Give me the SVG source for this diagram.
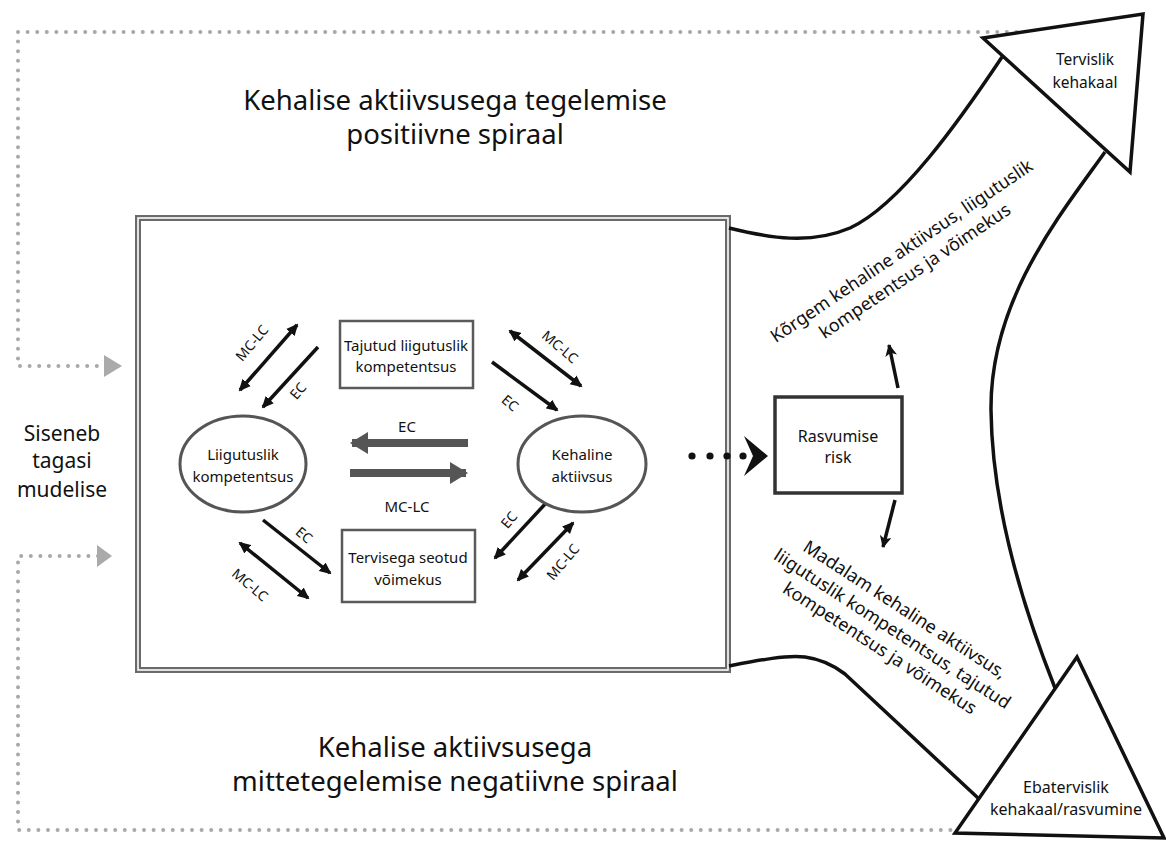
<svg xmlns="http://www.w3.org/2000/svg" width="1166" height="844" viewBox="0 0 1166 844">
<defs>
<marker id="ah" viewBox="0 0 12 12" refX="10" refY="6" markerWidth="12" markerHeight="12" markerUnits="userSpaceOnUse" orient="auto-start-reverse"><path d="M0,0.5 L12,6 L0,11.5 z" fill="#111"/></marker>
<marker id="ahg" viewBox="0 0 18 22" refX="16" refY="11" markerWidth="18" markerHeight="22" markerUnits="userSpaceOnUse" orient="auto"><path d="M0,0 L18,11 L0,22 z" fill="#555"/></marker>
<marker id="ahs" viewBox="0 0 12 12" refX="11" refY="6" markerWidth="12" markerHeight="12" markerUnits="userSpaceOnUse" orient="auto"><path d="M0,0 L12,6 L0,12 L3,6 z" fill="#111"/></marker>
</defs>
<style>
.t{font-family:"Noto Sans","DejaVu Sans",sans-serif;fill:#111;text-anchor:middle}
.title{font-size:27.5px}
.lab{font-size:15px}
.sm{font-size:14px}
.rot{font-size:18px}
.dot{fill:none;stroke:#a8a8a8;stroke-width:4;stroke-linecap:round;stroke-dasharray:0 9.6}
.ln{stroke:#111;stroke-width:3.5;fill:none}
.thick{stroke:#555;stroke-width:8;fill:none}
.big{fill:none;stroke:#111;stroke-width:3.5}
.tri{fill:#fff;stroke:#111;stroke-width:3.5;stroke-linejoin:miter}
.box{fill:#fff;stroke:#5a5a5a;stroke-width:2.5}
.ell{fill:#fff;stroke:#555;stroke-width:3}
</style>
<rect width="1166" height="844" fill="#fff"/>

<g id="feedback">
<path class="dot" d="M1026,32 L18,32 L18,366 L104,366"/>
<polygon points="104,355 122,366 104,377" fill="#aaa"/>
<path class="dot" d="M98,556 L18,556 L18,830 L952,830"/>
<polygon points="97,545 112,556 97,567" fill="#aaa"/>
</g>

<g id="frame">
<rect x="138" y="218" width="590" height="452" fill="none" stroke="#6a6a6a" stroke-width="6"/>
<rect x="138" y="218" width="590" height="452" fill="none" stroke="#fff" stroke-width="1.6"/>
</g>

<g id="spiral">
<path class="big" d="M729,228 C770,238 810,245 850,228 C900,205 960,120 1002,57"/>
<path class="big" d="M1105,152 C1060,215 990,300 991,410 C992,500 1020,600 1055,688"/>
<path class="big" d="M729,666 C760,660 785,655 805,657 C820,659 832,664 845,674 L978,798"/>
</g>

<g id="connectors">
<line class="ln" x1="240" y1="390" x2="297" y2="325" marker-start="url(#ah)" marker-end="url(#ah)"/>
<line class="ln" x1="318" y1="347" x2="263" y2="407" marker-end="url(#ah)"/>
<line class="ln" x1="510" y1="331" x2="581" y2="386" marker-start="url(#ah)" marker-end="url(#ah)"/>
<line class="ln" x1="492" y1="362" x2="557" y2="410" marker-end="url(#ah)"/>
<line class="ln" x1="263" y1="520" x2="330" y2="573" marker-end="url(#ah)"/>
<line class="ln" x1="240" y1="543" x2="308" y2="598" marker-start="url(#ah)" marker-end="url(#ah)"/>
<line class="ln" x1="547" y1="502" x2="495" y2="558" marker-end="url(#ah)"/>
<line class="ln" x1="573" y1="523" x2="518" y2="580" marker-start="url(#ah)" marker-end="url(#ah)"/>
<line class="thick" x1="468" y1="443" x2="352" y2="443" marker-end="url(#ahg)"/>
<line class="thick" x1="350" y1="473" x2="466" y2="473" marker-end="url(#ahg)"/>
<line class="ln" x1="898" y1="388" x2="889" y2="345" stroke-width="2.5" marker-end="url(#ahs)"/>
<line class="ln" x1="895" y1="500" x2="883" y2="547" stroke-width="2.5" marker-end="url(#ahs)"/>
<g id="dotted-arrow" fill="#111">
<circle cx="692" cy="456" r="3.6"/><circle cx="710" cy="456" r="3.6"/><circle cx="727" cy="456" r="3.6"/><circle cx="743" cy="456" r="3.6"/>
<path d="M744,436 L768,456 L744,476 L753,456 Z"/>
</g>
<g class="t sm">
<text transform="translate(252,343) rotate(-50)" y="5">MC-LC</text>
<text transform="translate(298,391) rotate(-50)" y="5">EC</text>
<text transform="translate(560,347) rotate(40)" y="5">MC-LC</text>
<text transform="translate(510,403) rotate(40)" y="5">EC</text>
<text transform="translate(304,535) rotate(40)" y="5">EC</text>
<text transform="translate(250,585) rotate(40)" y="5">MC-LC</text>
<text transform="translate(509,520) rotate(-50)" y="5">EC</text>
<text transform="translate(563,562) rotate(-50)" y="5">MC-LC</text>
</g>
<text class="t lab" x="407" y="432">EC</text>
<text class="t lab" x="407" y="512">MC-LC</text>
</g>

<g id="n-tajutud">
<rect class="box" x="340" y="321" width="133" height="67"/>
<text class="t lab" x="406" y="351">Tajutud liigutuslik</text>
<text class="t lab" x="406" y="372">kompetentsus</text>
</g>
<g id="n-tervisega">
<rect class="box" x="342" y="530" width="133" height="72"/>
<text class="t lab" x="408" y="563">Tervisega seotud</text>
<text class="t lab" x="408" y="585">võimekus</text>
</g>
<g id="n-liigutuslik">
<ellipse class="ell" cx="243" cy="464" rx="63" ry="48"/>
<text class="t lab" x="243" y="460">Liigutuslik</text>
<text class="t lab" x="243" y="482">kompetentsus</text>
</g>
<g id="n-kehaline">
<ellipse class="ell" cx="582" cy="464" rx="64" ry="48"/>
<text class="t lab" x="582" y="460">Kehaline</text>
<text class="t lab" x="582" y="482">aktiivsus</text>
</g>
<g id="n-rasvumise">
<rect x="775" y="397" width="127" height="96" fill="#fff" stroke="#333" stroke-width="3.5"/>
<text class="t" font-size="16" x="838" y="442">Rasvumise</text>
<text class="t" font-size="16" x="838" y="463">risk</text>
</g>
<g id="n-tervislik">
<polygon class="tri" points="983,38 1143,14 1130,172"/>
<text class="t" font-size="15.5" x="1085" y="65">Tervislik</text>
<text class="t" font-size="15.5" x="1085" y="88">kehakaal</text>
</g>
<g id="n-ebatervislik">
<polygon class="tri" points="1077,657 955,833 1164,838"/>
<text class="t" font-size="16" x="1066" y="793">Ebatervislik</text>
<text class="t" font-size="16" x="1066" y="815">kehakaal/rasvumine</text>
</g>

<g id="labels">
<text class="t title" x="455" y="110">Kehalise aktiivsusega tegelemise</text>
<text class="t title" x="455" y="144">positiivne spiraal</text>
<text class="t title" x="455" y="757">Kehalise aktiivsusega</text>
<text class="t title" x="455" y="791">mittetegelemise negatiivne spiraal</text>
<text class="t" font-size="21" x="62" y="441">Siseneb</text>
<text class="t" font-size="21" x="62" y="468">tagasi</text>
<text class="t" font-size="21" x="62" y="497">mudelise</text>
<g class="t rot" transform="translate(905,256) rotate(-34)">
<text x="0" y="0">Kõrgem kehaline aktiivsus, liigutuslik</text>
<text x="0" y="24">kompetentsus ja võimekus</text>
</g>
<g class="t rot" transform="translate(889,634) rotate(33)">
<text x="0" y="-23">Madalam kehaline aktiivsus,</text>
<text x="0" y="0">liigutuslik kompetentsus, tajutud</text>
<text x="0" y="23">kompetentsus ja võimekus</text>
</g>
</g>
</svg>
